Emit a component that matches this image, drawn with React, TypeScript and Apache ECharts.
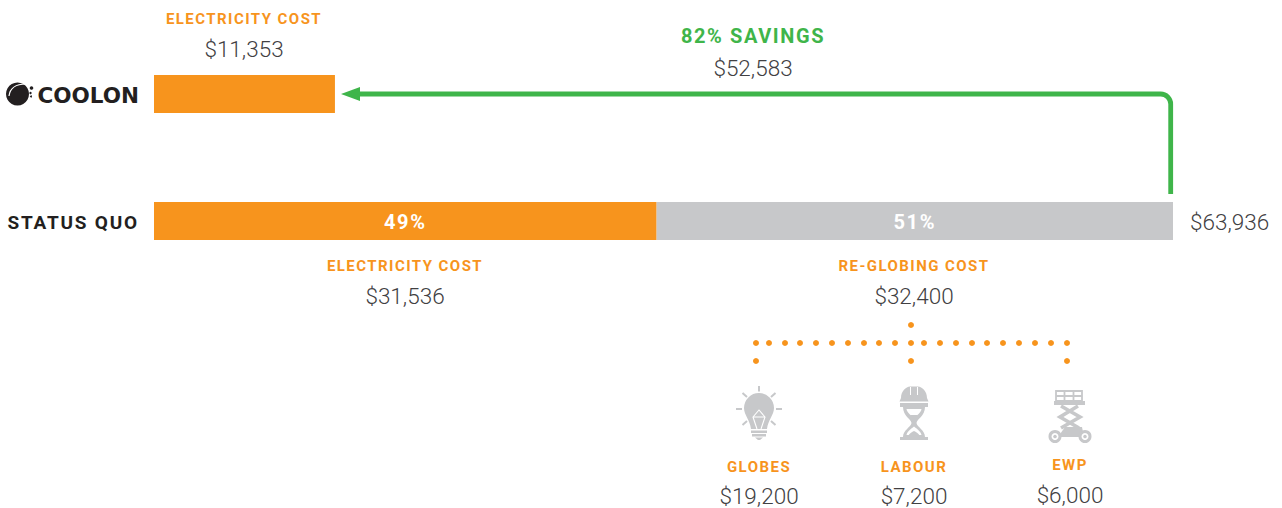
import React, { useEffect, useRef } from "react";
import * as echarts from "echarts";

const categories = ["COOLON", "STATUS QUO"];
const electricityCost = [11353, 31536];
const reGlobingCost = [null, 32400];
const electricityPct = ["", "49%"];
const reGlobingPct = ["", "51%"];
const totalCost = 63936;

const ORANGE = "#f7941d";
const GREY = "#c7c8ca";
const GREEN = "#3fb54a";
const INK = "#414042";
const LOGO = "#231f20";

const headings: [string, number, number][] = [
  ["ELECTRICITY COST", 244, 19],
  ["ELECTRICITY COST", 405, 266],
  ["RE-GLOBING COST", 914, 266],
  ["GLOBES", 759, 467],
  ["LABOUR", 914, 467],
  ["EWP", 1070, 465],
];
const amounts: [string, number, number][] = [
  ["$11,353", 244, 49],
  ["$52,583", 753, 68],
  ["$31,536", 405, 296],
  ["$32,400", 914, 296],
  ["$19,200", 759, 496],
  ["$7,200", 914, 496],
  ["$6,000", 1070, 495],
];
const dotXs = [756, 769, 785, 800, 816, 832, 848, 864, 879, 895, 911, 924, 940, 956, 972, 987, 1003, 1019, 1035, 1051, 1067];
const dropXs = [756, 911, 1067];

const arrowD = "M1170.7 194 L1170.7 104 A10 10 0 0 0 1160.7 94 L352 94";
const bulbD = "M744 408 A15 15 0 1 1 774 408 C774 415 768 420 767 429 L751 429 C750 420 744 415 744 408 Z";
const bulbBaseD = "M751 430.500 L767 430.500 L767 433 L751 433 Z M752 434 L766 434 L766 436.500 L752 436.500 Z M755 437.500 L763 437.500 L760 440 L758 440 Z";
const filamentD = "M757 429 L753 417 L759 410 L765 417 L761 429 M753 417 L765 417";
const raysD = "M759 386 L759 391.500 M736 409 L742 409 M776 409 L782 409 M742.500 393 L747 397 M775.500 393 L771 397 M742.500 425 L747 421 M775.500 425 L771 421";
const hatD = "M901 398 C901 391 906 387 910 386.500 L918 386.500 C922 387 927 391 927 398 L928.500 401.500 L899.500 401.500 Z M900 403 L928 403 L928 407 L900 407 Z";
const hatSlotD = "M910.500 387 L910.500 395 M917.500 387 L917.500 395";
const glassD = "M903 407 L925 407 C925 416 917 419 916.500 423 C917 427 925 430 925 437 L928 437 L928 440 L900 440 L900 437 L903 437 C903 430 911 427 911.500 423 C911 419 903 416 903 407 Z";
const glassHoleD = "M906.500 409 L921.500 409 C921 413 916 416 914 418 C912 416 907 413 906.500 409 Z M906.500 435 C907.500 431 911 429 914 426.500 C917 429 920.500 431 921.500 435 Z";
const sandD = "M910 415 L918 415 L914 419 Z M908 436 C910 433 912 432 914 431 C916 432 918 433 920 436 Z";
const railsD = "M1056 391 L1082 391 L1082 401 L1056 401 Z M1056 396 L1082 396 M1064.500 391 L1064.500 401 M1073.500 391 L1073.500 401";
const deckD = "M1054 401 L1085 401 L1085 405 L1054 405 Z";
const scissorD = "M1061 406 L1080 417 L1061 428 M1078 406 L1060 417 L1079 428";
const chassisD = "M1058 437 L1065 427 L1082 427 L1084 437 Z";
const logoArcD = "M9 96 C10 88 16 84 26 84";

const shapes: Record<string, string> = {
  arrowLine: arrowD, bulb: bulbD, bulbBase: bulbBaseD, filament: filamentD, rays: raysD,
  hat: hatD, hatSlot: hatSlotD, glass: glassD, glassHole: glassHoleD, sand: sandD,
  rails: railsD, deck: deckD, scissor: scissorD, chassis: chassisD, logoArc: logoArcD,
};
Object.keys(shapes).forEach((k) => {
  echarts.graphic.registerShape(k, echarts.graphic.extendPath(shapes[k], {}) as any);
});

const fill = (type: string, color: string) => ({ type, x: 0, y: 0, style: { fill: color } });
const line = (type: string, color: string, w: number) => ({
  type, x: 0, y: 0, style: { fill: "none", stroke: color, lineWidth: w },
});
const txt = (text: string, x: number, y: number, font: string, color: string, align = "center") => ({
  type: "text", x, y,
  style: { text, font, fill: color, align, verticalAlign: "middle" },
});
const dot = (x: number, y: number, r: number) => ({
  type: "circle", shape: { cx: x, cy: y, r }, style: { fill: ORANGE },
});
const wheel = (cx: number) => ({
  type: "circle", shape: { cx, cy: 436.500, r: 5 }, style: { fill: "#fff", stroke: GREY, lineWidth: 3 },
});
const hub = (cx: number) => ({
  type: "circle", shape: { cx, cy: 436.500, r: 1.800 }, style: { fill: GREY },
});

const HEAD = "bold 15px Roboto";
const AMOUNT = "300 22.500px Roboto";

const graphics: any[] = [
  ...headings.map(([t, x, y]) => txt(t, x, y, HEAD, ORANGE)),
  ...amounts.map(([t, x, y]) => txt(t, x, y, AMOUNT, INK)),
  txt("82% SAVINGS", 753, 36, "bold 20px Roboto", GREEN),
  txt("$63,936", 1190, 222, AMOUNT, INK, "left"),
  line("arrowLine", GREEN, 4.800),
  { type: "polygon", shape: { points: [[341, 94], [360, 87], [360, 101]] }, style: { fill: GREEN } },
  ...dotXs.map((x) => dot(x, 343, 3)),
  ...dropXs.map((x) => dot(x, 361, 3)),
  dot(911, 325, 3),
  fill("bulb", GREY), fill("bulbBase", GREY), line("filament", "#fff", 1.100), line("rays", GREY, 2),
  fill("hat", GREY), line("hatSlot", "#fff", 1), fill("glass", GREY), fill("glassHole", "#fff"), fill("sand", GREY),
  line("rails", GREY, 1.800), fill("deck", GREY), line("scissor", GREY, 3.600), fill("chassis", GREY),
  wheel(1055), wheel(1085), hub(1055), hub(1085),
  { type: "circle", shape: { cx: 17.500, cy: 94, r: 11.500 }, style: { fill: LOGO } },
  line("logoArc", "#fff", 1.200),
  { type: "circle", shape: { cx: 31.500, cy: 88, r: 1.800 }, style: { fill: LOGO } },
  { type: "circle", shape: { cx: 30.500, cy: 93, r: 1.200 }, style: { fill: LOGO } },
  { type: "circle", shape: { cx: 31, cy: 96.500, r: 1 }, style: { fill: LOGO } },
];

export default function App() {
  const ref = useRef<HTMLDivElement>(null);
  useEffect(() => {
    document.body.style.margin = "0";
    const chart = echarts.init(ref.current!, undefined, { renderer: "svg" });
    const pct = (arr: string[]) => ({
      show: true, position: "inside" as const, color: "#fff", offset: [0, 1],
      fontWeight: "bold" as const, fontSize: 20, fontFamily: "Roboto",
      formatter: (p: any) => arr[p.dataIndex],
    });
    chart.setOption({
      animation: false,
      backgroundColor: "#fff",
      grid: { left: 154, right: 109, top: 30.500, height: 254 },
      xAxis: { type: "value", min: 0, max: totalCost, show: false },
      yAxis: {
        type: "category", inverse: true, data: categories,
        axisLine: { show: false }, axisTick: { show: false },
        axisLabel: {
          margin: 15, align: "right",
          formatter: (v: string) => (v === "COOLON" ? `{c|${v}}` : `{s|${v}}`),
          rich: {
            c: { fontFamily: "DejaVu Sans", fontWeight: "bold", fontSize: 21.500, color: LOGO, padding: [2, 0, 0, 0] },
            s: { fontFamily: "Roboto", fontWeight: "bold", fontSize: 19, color: LOGO, padding: [2, 0, 0, 0] },
          },
        },
      },
      series: [
        { type: "bar", stack: "cost", barWidth: 38, data: electricityCost, itemStyle: { color: ORANGE }, label: pct(electricityPct) },
        { type: "bar", stack: "cost", barWidth: 38, data: reGlobingCost, itemStyle: { color: GREY }, label: pct(reGlobingPct) },
      ],
      graphic: graphics,
    });
    return () => chart.dispose();
  }, []);
  return (
    <>
      <style>{`
        text[style*="15px"] { letter-spacing: 1.450px; }
        text[style*="20px"] { letter-spacing: 1.600px; }
        text[style*="19px"] { letter-spacing: 1.800px; }
      `}</style>
      <div ref={ref} style={{ position: "absolute", left: 0, top: 0, width: 1282, height: 508 }} />
    </>
  );
}
